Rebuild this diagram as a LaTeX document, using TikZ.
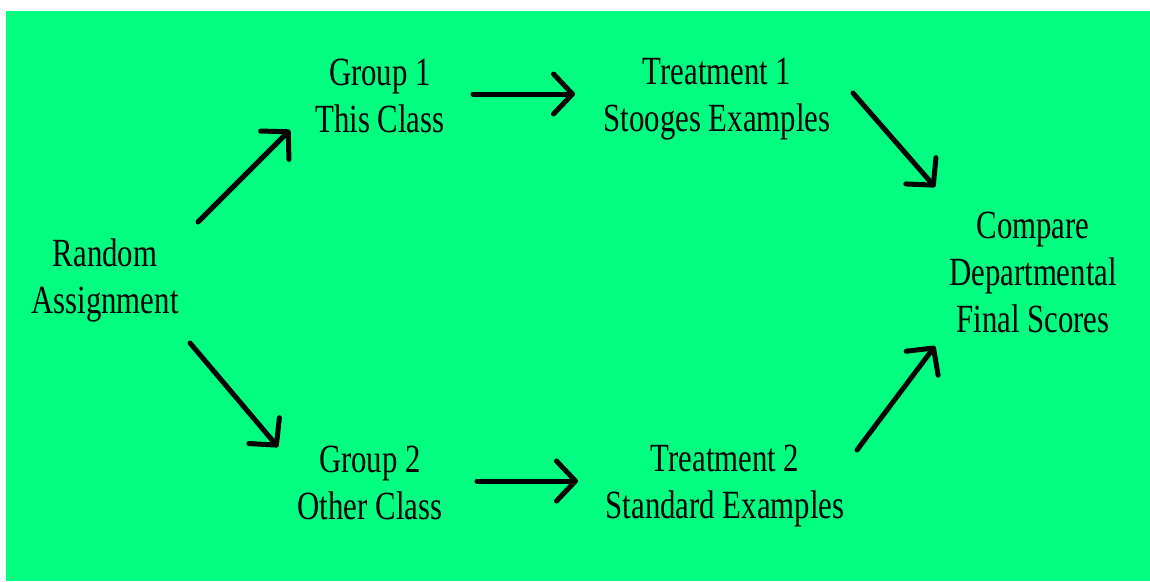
\documentclass[tikz,border=0pt]{standalone}
\usepackage{fontspec}
\setmainfont{Liberation Serif}
\usetikzlibrary{arrows.meta,calc}
\definecolor{bggreen}{RGB}{0,255,128}
\tikzset{
  lbl/.style={align=center, inner sep=0pt, xscale=0.77, font=\fontsize{40}{47}\selectfont, text=black},
  arr/.style={line width=5pt, line cap=round, line join=round, -{Straight Barb[length=19pt,width=40pt,line cap=round,line join=round]}}
}
\begin{document}
\begin{tikzpicture}[x=1pt,y=-1pt]
\useasboundingbox (0,0) rectangle (1150,581);
\fill[white] (0,0) rectangle (1150,581);
\fill[bggreen] (6,11) rectangle (1150,581);
\node[lbl] (ra) at (105,280) {Random\\Assignment};
\node[lbl] (g1) at (380,96) {Group 1\\This Class};
\node[lbl] (t1) at (717,99) {Treatment 1\\Stooges Examples};
\node[lbl] (cmp) at (1033,272) {Compare\\Departmental\\Final Scores};
\node[lbl] (g2) at (370,483) {Group 2\\Other Class};
\node[lbl] (t2) at (725,486) {Treatment 2\\Standard Examples};
\draw[arr] ($(ra)+(93,-58)$) -- ($(g1)+(-90,34)$);
\draw[arr] ($(g1)+(93,-2)$) -- ($(t1)+(-142,-5)$);
\draw[arr] ($(t1)+(136,-6)$) -- ($(cmp)+(-98,-85)$);
\draw[arr] ($(ra)+(85,63)$) -- ($(g2)+(-92,-36)$);
\draw[arr] ($(g2)+(107,-2)$) -- ($(t2)+(-147,-5)$);
\draw[arr] ($(t2)+(132,-36)$) -- ($(cmp)+(-98,74)$);
\end{tikzpicture}
\end{document}
